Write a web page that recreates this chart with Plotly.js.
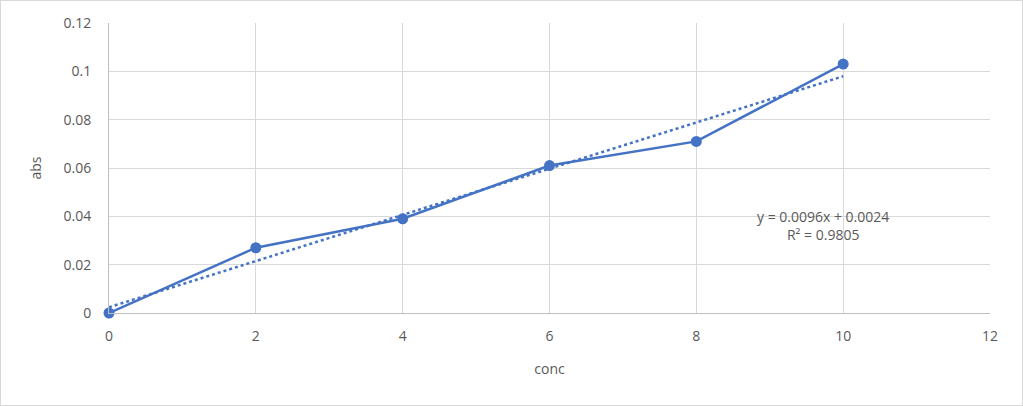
<!DOCTYPE html>
<html><head><meta charset="utf-8">
<script src="https://cdn.plot.ly/plotly-3.0.1.min.js"></script>
<style>html,body{margin:0;padding:0;background:#fff;}#wrap{position:relative;width:1023px;height:406px;}#chart{width:1023px;height:406px;}#frame{position:absolute;left:0;top:0;width:1021px;height:404px;border:1px solid #d9d9d9;pointer-events:none;}</style>
</head><body>
<div id="wrap"><div id="chart"></div><div id="frame"></div></div>
<script>
const conc = [0, 2, 4, 6, 8, 10];
const abs = [0, 0.027, 0.039, 0.061, 0.071, 0.103];
const xTicks = [0, 2, 4, 6, 8, 10, 12];
const yTicks = [0, 0.02, 0.04, 0.06, 0.08, 0.1, 0.12];
const yTickLabels = ['0', '0.02', '0.04', '0.06', '0.08', '0.1', '0.12'];

// linear least squares trendline from the data
const n = conc.length;
const mx = conc.reduce((a,b)=>a+b,0)/n;
const my = abs.reduce((a,b)=>a+b,0)/n;
let sxy=0, sxx=0, syy=0;
for (let i=0;i<n;i++){sxy+=(conc[i]-mx)*(abs[i]-my);sxx+=(conc[i]-mx)**2;syy+=(abs[i]-my)**2;}
const slope = sxy/sxx, intercept = my - slope*mx;
const r2 = (sxy*sxy)/(sxx*syy);
const trendX = [conc[0], conc[n-1]];
const trendY = trendX.map(x=>slope*x+intercept);

const font = {family:'"Open Sans", "Noto Sans", sans-serif', size:14, color:'#595959'};
const data = [
  {x: trendX, y: trendY, type:'scatter', mode:'lines', cliponaxis:false,
   line:{color:'#4472C4', width:2.5, dash:'dot'}, hoverinfo:'skip'},
  {x: conc, y: abs, type:'scatter', mode:'lines+markers', cliponaxis:false,
   line:{color:'#4472C4', width:2.5}, marker:{color:'#4472C4', size:11}, hoverinfo:'x+y'}
];
const layout = {
  width:1023, height:406,
  margin:{l:109, r:33, t:23, b:93},
  showlegend:false,
  paper_bgcolor:'#fff', plot_bgcolor:'#fff',
  font: font,
  xaxis:{range:[0,12], tickvals:xTicks, ticktext:xTicks.map(String), showgrid:true, gridcolor:'#d9d9d9', gridwidth:1,
         zeroline:false, showline:true, linecolor:'#bfbfbf', linewidth:1, ticks:'', ticklen:0, tickfont:font, ticklabelstandoff:10,
         title:{text:'conc', font:font, standoff:20}},
  yaxis:{range:[0,0.12], tickvals:yTicks, ticktext:yTickLabels, showgrid:true, gridcolor:'#d9d9d9', gridwidth:1,
         zeroline:false, showline:true, linecolor:'#bfbfbf', linewidth:1, ticks:'', tickfont:font, ticklabelstandoff:14,
         title:{text:'abs', font:font, standoff:18}},
  annotations:[{x:9.72, y:0.0364, xref:'x', yref:'y', showarrow:false,
    text:'y = ' + slope.toFixed(4) + 'x + ' + intercept.toFixed(4) + '<br>R² = ' + r2.toFixed(4),
    font:font, align:'center'}]
};
Plotly.newPlot('chart', data, layout, {displayModeBar:false, staticPlot:true});
</script>
</body></html>
